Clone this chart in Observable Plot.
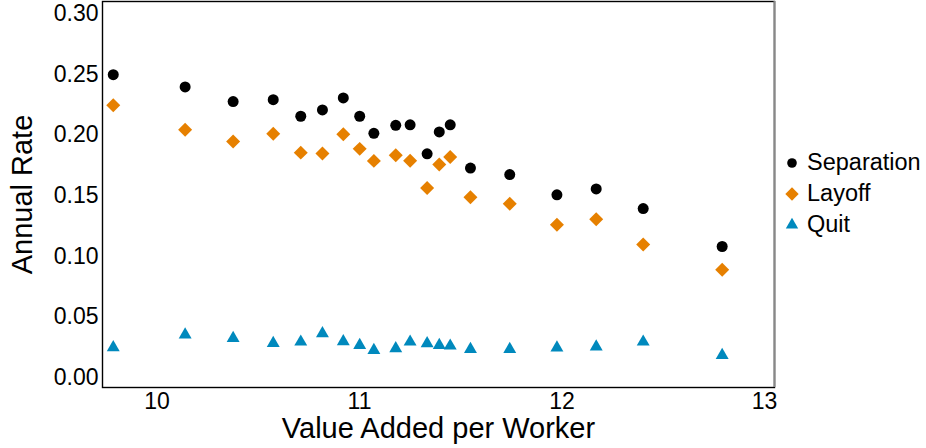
<!DOCTYPE html>
<html><head><meta charset="utf-8">
<script src="https://cdn.jsdelivr.net/npm/d3@7"></script>
<script src="https://cdn.jsdelivr.net/npm/@observablehq/plot@0.6"></script>
<style>
body{margin:0;background:#fff;font-family:"Liberation Sans",Arial,sans-serif}
#wrap{position:relative;width:926px;height:448px}
#legend{position:absolute;left:784px;top:147px;font-size:23.5px;color:#000;font-family:"Liberation Sans",Arial,sans-serif}
.row{display:flex;align-items:center;height:31px}
.row svg{margin-right:7px}
</style></head><body><div id="wrap"><div id="legend"></div></div>
<script>
const valueAdded = [9.784, 10.139, 10.376, 10.574, 10.710, 10.817, 10.920, 11.001, 11.071, 11.179, 11.250, 11.334, 11.394, 11.448, 11.548, 11.742, 11.975, 12.169, 12.401, 12.791];
const separation = [0.2497, 0.2396, 0.2275, 0.2291, 0.2154, 0.2206, 0.2305, 0.2154, 0.2013, 0.2079, 0.2083, 0.1844, 0.2025, 0.2083, 0.1727, 0.1673, 0.1506, 0.1555, 0.1393, 0.1080];
const layoff = [0.2244, 0.2042, 0.1945, 0.2009, 0.1854, 0.1846, 0.2005, 0.1885, 0.1786, 0.1832, 0.1788, 0.1563, 0.1756, 0.1817, 0.1486, 0.1432, 0.1259, 0.1305, 0.1096, 0.0888];
const quit = [0.0247, 0.0352, 0.0324, 0.0283, 0.0294, 0.0363, 0.0297, 0.0266, 0.0225, 0.0239, 0.0294, 0.0280, 0.0266, 0.0261, 0.0233, 0.0233, 0.0245, 0.0253, 0.0294, 0.0184];
const seriesNames = ["Separation", "Layoff", "Quit"];
const seriesColors = ["#000000", "#E68000", "#0089BD"];
const seriesSymbols = ["circle", "diamond2", "triangle"];
const xTicks = [10, 11, 12, 13];
const yTicks = [0, 0.05, 0.10, 0.15, 0.20, 0.25, 0.30];
const xTitle = "Value Added per Worker";
const yTitle = "Annual Rate";

const xDomain = [9.7309, 13.0494];
const yDomain = [-0.00824, 0.31];
const seriesValues = [separation, layoff, quit];
const seriesR = [5.5, 6.3, 4.8];

const marks = [Plot.frame({stroke: "#000", strokeWidth: 1.4}),
  Plot.ruleX([xDomain[1]], {stroke: "#888", strokeWidth: 2})];
seriesValues.forEach((vals, i) => {
  const data = valueAdded.map((x, j) => ({x, y: vals[j]}));
  marks.push(Plot.dot(data, {x: "x", y: "y", r: seriesR[i], fill: seriesColors[i], symbol: seriesSymbols[i]}));
});
marks.push(Plot.text([xTitle], {frameAnchor: "bottom", dy: 41, fontSize: 29, fill: "#000", lineAnchor: "middle", textAnchor: "middle"}));
marks.push(Plot.text([yTitle], {frameAnchor: "left", dx: -80, rotate: -90, fontSize: 29, fill: "#000", lineAnchor: "middle", textAnchor: "middle"}));

const chart = Plot.plot({
  width: 926, height: 448,
  marginLeft: 102, marginRight: 152, marginTop: 1, marginBottom: 61,
  style: {fontSize: "23px", fontFamily: "'Liberation Sans', Arial, sans-serif", color: "#000", background: "#fff"},
  x: {domain: xDomain, ticks: xTicks, tickFormat: d3.format("d"), tickSize: 0, tickPadding: 5, label: null},
  y: {domain: yDomain, ticks: yTicks, tickFormat: d3.format(".2f"), tickSize: 0, tickPadding: 4, label: null},
  marks
});
const wrap = document.getElementById("wrap");
wrap.insertBefore(chart, wrap.firstChild);

const legend = document.getElementById("legend");
const symMap = {circle: d3.symbolCircle, diamond2: d3.symbolDiamond2, triangle: d3.symbolTriangle};
const legR = [4.8, 6.0, 4.6];
seriesNames.forEach((name, i) => {
  const row = document.createElement("div");
  row.className = "row";
  const s = d3.create("svg").attr("width", 16).attr("height", 16);
  s.append("path").attr("transform", "translate(8,8)")
    .attr("d", d3.symbol(symMap[seriesSymbols[i]], Math.PI * legR[i] * legR[i])())
    .attr("fill", seriesColors[i]);
  row.appendChild(s.node());
  const t = document.createElement("span");
  t.textContent = name;
  row.appendChild(t);
  legend.appendChild(row);
});
</script></body></html>
